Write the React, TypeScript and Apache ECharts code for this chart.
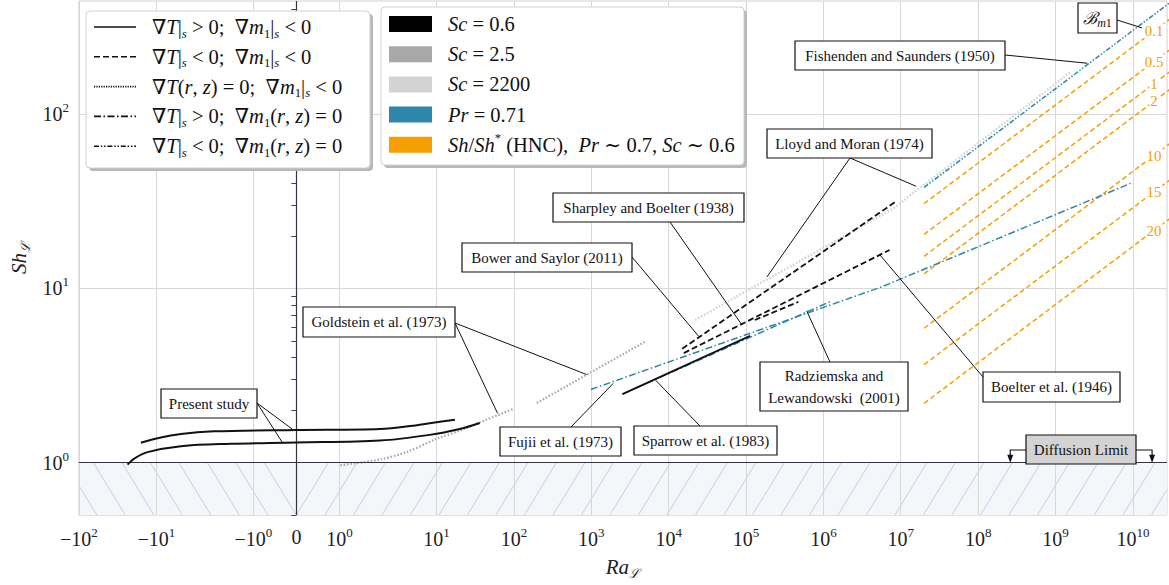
import React, { useEffect, useRef } from 'react';
import * as echarts from 'echarts';

const SERIF = "'Liberation Serif', 'DejaVu Serif', 'Times New Roman', serif";

// ---------- axes ----------
const X_MIN = -100;
const X_MAX = 2.76e10;
const Y_MIN = 0.5;
const Y_MAX = 445;

const X_TICKS = [-100, -10, -1, 0, 1, 10, 1e2, 1e3, 1e4, 1e5, 1e6, 1e7, 1e8, 1e9, 1e10];
const X_TICK_BASE = ['−10', '−10', '−10', '0', '10', '10', '10', '10', '10', '10', '10', '10', '10', '10', '10'];
const X_TICK_EXP = ['2', '1', '0', '', '0', '1', '2', '3', '4', '5', '6', '7', '8', '9', '10'];
const Y_TICKS = [1, 10, 100];
const Y_TICK_EXP = ['0', '1', '2'];
const Y_MINOR = [0.5, 0.6, 0.7, 0.8, 0.9, 2, 3, 4, 5, 6, 7, 8, 9, 20, 30, 40, 50, 60, 70, 80, 90, 200, 300, 400];

// ---------- data (Ra, Sh) ----------
const PRESENT_UPPER = [[-15.8, 1.299], [-9.7, 1.38], [-5.58, 1.461], [-2.54, 1.512], [0, 1.54], [2.62, 1.56], [5.75, 1.629], [9.23, 1.695], [17.3, 1.762]];
const PRESENT_LOWER = [[-23.5, 0.974], [-19.3, 1.054], [-13.0, 1.149], [-5.58, 1.243], [-1.71, 1.282], [0, 1.304], [2.62, 1.339], [8.54, 1.443], [20.0, 1.56], [36.2, 1.688]];
const GOLDSTEIN_LOW = [[1.02, 0.965], [2.62, 1.044], [4.91, 1.149], [10, 1.369], [20, 1.526], [36.2, 1.7], [97.2, 2.03]];
const GOLDSTEIN_HIGH = [[198, 2.2], [5000, 4.95]];
const LLOYD_MORAN = [[2.2e4, 6.58], [8e6, 28.7], [1.6e9, 175.5]];
const FUJII = [[990, 2.63], [5.6e6, 10.17], [1e10, 40.5]];
const RADZIEMSKA = [[2530, 2.47], [1.28e6, 8.47]];
const SPARROW = [[2530, 2.47], [1.13e5, 5.34]];
const BOWER = [[1.5e4, 4.5], [8.77e6, 31.6]];
const BOELTER = [[1.57e4, 4.25], [7.18e6, 16.6]];
const SHARPLEY = [[1.3e5, 6.58], [4.75e5, 8.36]];
const FISHENDEN = [[2e7, 37.9], [3e10, 435]];
const ORANGE_RA = [2e7, 3e10];
const ORANGE_START = [30.6, 20.4, 15.26, 12.1, 5.9, 3.65, 2.19];
const ORANGE_END = [350, 233.6, 174.7, 138.5, 67.6, 41.8, 25.1];
const ORANGE_LABELS = ['0.1', '0.5', '1', '2', '10', '15', '20'];
const DIFFUSION_ARROWS_RA = [2.6e8, 1.77e10];

// ---------- styles ----------
const C_BLACK = '#111111';
const C_GRAY = '#a9a9a9';
const C_LIGHT = '#d3d3d3';
const C_BLUE = '#2e86ab';
const C_ORANGE = '#f5a000';
const DOTTED = [1.6, 1.8];
const DASHED = [6, 3];
const DASHDOT = [7, 2.5, 1.5, 2.5];
const DASHDOTDOT = [5, 1.8, 1.5, 1.8, 1.5, 1.8];

// symmetric log-like transform of the Ra axis
const LIN = 0.5573;
const MID = 1.2535;
function T(x: number): number {
  const a = Math.abs(x);
  const s = Math.sign(x);
  if (a <= 1) return x * LIN;
  if (a <= 10) return s * (LIN + MID * Math.log10(a));
  return s * (LIN + MID + Math.log10(a) - 1);
}
const L = (y: number) => Math.log10(y);

function lineSeries(data: number[][], color: string, width: number, dash: any, z: number, smooth: any = false) {
  return {
    type: 'line',
    data: data.map(([x, y]) => [T(x), L(y)]),
    showSymbol: false,
    symbol: 'none',
    smooth,
    silent: true,
    clip: true,
    z,
    lineStyle: { color, width, type: dash, cap: 'butt' },
  };
}

function clipSeg(x1: number, y1: number, x2: number, y2: number, a: number, b: number) {
  if (x2 < a || x1 > b) return null;
  const k = (y2 - y1) / (x2 - x1);
  let nx1 = x1, ny1 = y1, nx2 = x2, ny2 = y2;
  if (nx1 < a) { ny1 = y1 + k * (a - x1); nx1 = a; }
  if (nx2 > b) { ny2 = y1 + k * (b - x1); nx2 = b; }
  return [nx1, ny1, nx2, ny2];
}

const richAxis = {
  b: { fontSize: 20, lineHeight: 26, fontFamily: SERIF, color: '#222' },
  s: { fontSize: 13, lineHeight: 13, fontFamily: SERIF, color: '#222', verticalAlign: 'top' },
  z: { fontSize: 20, lineHeight: 26, fontFamily: SERIF, color: '#222', padding: [0, 0, 5, 0] },
};

function legendRich(fs: number) {
  return {
    n: { fontSize: fs, lineHeight: 26, fontFamily: SERIF },
    i: { fontSize: fs, lineHeight: 26, fontFamily: SERIF, fontStyle: 'italic' },
    sub: { fontSize: fs * 0.62, lineHeight: 13, fontFamily: SERIF, fontStyle: 'italic', verticalAlign: 'bottom' },
    subn: { fontSize: fs * 0.62, lineHeight: 13, fontFamily: SERIF, verticalAlign: 'bottom' },
    sup: { fontSize: fs * 0.62, lineHeight: 13, fontFamily: SERIF, verticalAlign: 'top' },
  };
}

const LEGEND1_TEXT = [
  '{n|∇}{i|T}{n||}{sub|s}{n| > 0;  ∇}{i|m}{subn|1}{n||}{sub|s}{n| < 0}',
  '{n|∇}{i|T}{n||}{sub|s}{n| < 0;  ∇}{i|m}{subn|1}{n||}{sub|s}{n| < 0}',
  '{n|∇}{i|T}{n|(}{i|r}{n|, }{i|z}{n|) = 0;  ∇}{i|m}{subn|1}{n||}{sub|s}{n| < 0}',
  '{n|∇}{i|T}{n||}{sub|s}{n| > 0;  ∇}{i|m}{subn|1}{n|(}{i|r}{n|, }{i|z}{n|) = 0}',
  '{n|∇}{i|T}{n||}{sub|s}{n| < 0;  ∇}{i|m}{subn|1}{n|(}{i|r}{n|, }{i|z}{n|) = 0}',
];
const LEGEND1_DASH = [null, DASHED, [1.2, 1.2], DASHDOT, DASHDOTDOT];
const LEGEND2_TEXT = [
  '{i|Sc}{n| = 0.6}',
  '{i|Sc}{n| = 2.5}',
  '{i|Sc}{n| = 2200}',
  '{i|Pr}{n| = 0.71}',
  '{i|Sh}{n|/}{i|Sh}{sup|*}{n| (HNC),  }{i|Pr}{n| ∼ 0.7, }{i|Sc}{n| ∼ 0.6}',
];
const LEGEND2_COLOR = ['#000000', '#a8a8a8', '#d3d3d3', '#2e86ab', '#f5a000'];

// annotation boxes (layout in px) and targets (data coordinates)
const ANNOTATIONS = [
  { text: 'Present study', box: [161, 389, 257, 418], from: [257, 403], to: [[-0.1, 1.56], [-0.33, 1.31]] },
  { text: 'Goldstein et al. (1973)', box: [303, 307, 455, 337], from: [455, 323], to: [[871, 3.2], [61.5, 1.92]] },
  { text: 'Fujii et al. (1973)', box: [500, 427, 621, 456], from: [571, 427], to: [[1923, 2.85]] },
  { text: 'Sparrow et al. (1983)', box: [634, 426, 777, 455], from: [700, 426], to: [[6790, 2.97]] },
  { text: 'Bower and Saylor (2011)', box: [462, 243, 632, 272], from: [632, 257], to: [[2.46e4, 5.29]] },
  { text: 'Sharpley and Boelter (1938)', box: [553, 193, 744, 222], from: [670, 222], to: [[8.87e4, 6.16]] },
  { text: 'Lloyd and Moran (1974)', box: [767, 129, 932, 158], from: [850, 158], to: [[1.86e5, 11.6], [1.58e7, 38.5]] },
  { text: 'Fishenden and Saunders (1950)', box: [795, 41, 1005, 70], from: [1005, 55], to: [[2.57e9, 195.6]] },
  { text: 'Radziemska and\nLewandowski  (2001)', box: [760, 362, 908, 411], from: [830, 362], to: [[6.08e5, 7.43]] },
  { text: 'Boelter et al. (1946)', box: [983, 372, 1120, 402], from: [983, 377], to: [[5.35e6, 15.6]] },
];

export default function App() {
  const ref = useRef<HTMLDivElement>(null);
  useEffect(() => {
    if (!ref.current) return;
    const chart = echarts.init(ref.current, null, { renderer: 'svg' });

    const hatchSeries = {
      type: 'custom',
      coordinateSystem: 'cartesian2d',
      silent: true,
      z: 1,
      data: [[T(X_MIN), L(Y_MIN), T(X_MAX), L(1)]],
      renderItem: (params: any, api: any) => {
        const p0 = api.coord([api.value(0), api.value(1)]);
        const p1 = api.coord([api.value(2), api.value(3)]);
        const pz = api.coord([0, api.value(1)]);
        const left = p0[0], right = p1[0], bottom = p0[1], top = p1[1], zx = pz[0];
        const children: any[] = [
          { type: 'rect', shape: { x: left, y: top, width: right - left, height: bottom - top }, style: { fill: '#f4f6fa' } },
        ];
        const dx = 32, step = 28.5;
        const hs = { stroke: '#bccbe6', lineWidth: 0.9 };
        for (let k = 0; k < 20; k++) {
          const xb = zx - k * step; // "\" lines: bottom point xb, top point xb - dx
          const s = clipSeg(xb - dx, top, xb, bottom, left, zx);
          if (s) children.push({ type: 'line', shape: { x1: s[0], y1: s[1], x2: s[2], y2: s[3] }, style: hs });
        }
        for (let k = 0; k < 40; k++) {
          const xb = zx + k * step; // "/" lines: bottom point xb, top point xb + dx
          const s = clipSeg(xb, bottom, xb + dx, top, zx, right);
          if (s) children.push({ type: 'line', shape: { x1: s[0], y1: s[1], x2: s[2], y2: s[3] }, style: hs });
        }
        return { type: 'group', children };
      },
    };

    const gridSeries = {
      type: 'scatter',
      data: [],
      silent: true,
      z: 2,
      markLine: {
        silent: true,
        symbol: ['none', 'none'],
        label: { show: false },
        animation: false,
        lineStyle: { color: '#d8d8d8', width: 1, type: 'solid' },
        data: [
          ...X_TICKS.filter((v) => v !== 0).map((v) => ({ xAxis: T(v) })),
          ...Y_TICKS.filter((v) => v !== 1).map((v) => ({ yAxis: L(v) })),
        ],
      },
    };
    const axisLinesSeries = {
      type: 'scatter',
      data: [],
      silent: true,
      z: 3,
      markLine: {
        silent: true,
        symbol: ['none', 'none'],
        label: { show: false },
        animation: false,
        lineStyle: { color: '#343442', width: 1.2, type: 'solid' },
        data: [{ xAxis: T(0) }, { yAxis: L(1) }],
      },
    };

    const orangeSeries = ORANGE_START.map((s, i) =>
      lineSeries([[ORANGE_RA[0], s], [ORANGE_RA[1], ORANGE_END[i]]], C_ORANGE, 1.5, [5, 3], 6)
    );

    const option: any = {
      animation: false,
      backgroundColor: '#ffffff',
      textStyle: { fontFamily: SERIF },
      grid: { left: 75, right: 2, top: 1, bottom: 65, show: true, borderColor: '#d0d0d0', borderWidth: 1, backgroundColor: 'transparent' },
      xAxis: {
        type: 'value',
        min: T(X_MIN),
        max: T(X_MAX),
        splitLine: { show: false },
        axisLine: { show: false },
        axisTick: { show: false },
        axisLabel: {
          customValues: X_TICKS.map(T),
          margin: 11,
          formatter: (v: number) => {
            const i = X_TICKS.findIndex((t) => Math.abs(T(t) - v) < 1e-6);
            if (i < 0) return '';
            return X_TICK_EXP[i] ? `{b|${X_TICK_BASE[i]}}{s|${X_TICK_EXP[i]}}` : `{z|${X_TICK_BASE[i]}}`;
          },
          rich: richAxis,
        },
        name: '{i|Ra}{sub|ℒ}',
        nameLocation: 'middle',
        nameGap: 36,
        nameTextStyle: {
          rich: {
            i: { fontSize: 21, fontStyle: 'italic', fontFamily: SERIF, color: '#222', lineHeight: 26 },
            sub: { fontSize: 13, fontStyle: 'italic', fontFamily: SERIF, color: '#222', lineHeight: 13, verticalAlign: 'bottom' },
          },
        },
      },
      yAxis: {
        type: 'value',
        min: L(Y_MIN),
        max: L(Y_MAX),
        splitLine: { show: false },
        axisLine: { show: false },
        axisTick: {
          show: true,
          customValues: [...Y_TICKS, ...Y_MINOR].map(L),
          length: 5,
          lineStyle: { color: '#444', width: 1 },
        },
        axisLabel: {
          customValues: Y_TICKS.map(L),
          margin: 10,
          formatter: (v: number) => {
            const i = Y_TICKS.findIndex((t) => Math.abs(L(t) - v) < 1e-6);
            if (i < 0) return '';
            return `{b|10}{s|${Y_TICK_EXP[i]}}`;
          },
          rich: richAxis,
        },
        name: '{i|Sh}{sub|ℒ}',
        nameLocation: 'middle',
        nameRotate: 90,
        nameGap: 40,
        nameTextStyle: {
          rich: {
            i: { fontSize: 21, fontStyle: 'italic', fontFamily: SERIF, color: '#222', lineHeight: 26 },
            sub: { fontSize: 13, fontStyle: 'italic', fontFamily: SERIF, color: '#222', lineHeight: 13, verticalAlign: 'bottom' },
          },
        },
      },
      series: [
        hatchSeries,
        gridSeries,
        axisLinesSeries,
        lineSeries(GOLDSTEIN_LOW, C_GRAY, 2.2, DOTTED, 4, 0.3),
        lineSeries(GOLDSTEIN_HIGH, C_GRAY, 2.2, DOTTED, 4),
        lineSeries(LLOYD_MORAN, C_LIGHT, 2.4, DOTTED, 4),
        ...orangeSeries,
        lineSeries(FUJII, C_BLUE, 1.5, DASHDOT, 7),
        lineSeries(RADZIEMSKA, C_BLUE, 1.5, DASHDOT, 7),
        lineSeries(FISHENDEN, C_BLUE, 1.5, DASHDOTDOT, 7),
        lineSeries(SPARROW, C_BLACK, 1.8, 'solid', 8),
        lineSeries(BOWER, C_BLACK, 1.8, DASHED, 8),
        lineSeries(BOELTER, C_BLACK, 1.8, DASHED, 8),
        lineSeries(SHARPLEY, C_BLACK, 1.8, DASHED, 8),
        lineSeries(PRESENT_UPPER, C_BLACK, 2, 'solid', 9, 0.35),
        lineSeries(PRESENT_LOWER, C_BLACK, 2, 'solid', 9, 0.35),
      ],
    };
    chart.setOption(option);

    const toPx = (x: number, y: number) => chart.convertToPixel({ gridIndex: 0 } as any, [T(x), L(y)]) as number[];
    const els: any[] = [];
    const Z = 100;

    // annotation boxes with leader lines
    ANNOTATIONS.forEach((a) => {
      a.to.forEach(([x, y]) => {
        const p = toPx(x, y);
        els.push({ type: 'line', z: Z, silent: true, shape: { x1: a.from[0], y1: a.from[1], x2: p[0], y2: p[1] }, style: { stroke: '#111', lineWidth: 1 } });
      });
    });
    ANNOTATIONS.forEach((a) => {
      const [l, t, r, b] = a.box;
      els.push({ type: 'rect', z: Z + 1, silent: true, shape: { x: l, y: t, width: r - l, height: b - t }, style: { fill: '#fff', stroke: '#111', lineWidth: 1.2 } });
      els.push({
        type: 'text', z: Z + 2, silent: true, x: (l + r) / 2, y: (t + b) / 2,
        style: { text: a.text, fontSize: 15, fontFamily: SERIF, fill: '#111', align: 'center', verticalAlign: 'middle', lineHeight: 22 },
      });
    });

    // B_m1 box
    {
      const tgt = toPx(1.31e10, 312);
      els.push({ type: 'line', z: Z, silent: true, shape: { x1: 1117, y1: 20, x2: tgt[0], y2: tgt[1] }, style: { stroke: '#111', lineWidth: 1 } });
      els.push({ type: 'rect', z: Z + 1, silent: true, shape: { x: 1078, y: 3, width: 39, height: 30 }, style: { fill: '#fff', stroke: '#111', lineWidth: 1.2 } });
      els.push({
        type: 'text', z: Z + 2, silent: true, x: 1097.5, y: 18,
        style: {
          text: '{b|ℬ}{m|m}{o|1}', align: 'center', verticalAlign: 'middle', fill: '#111',
          rich: {
            b: { fontSize: 17, fontFamily: SERIF, fontStyle: 'italic', lineHeight: 22 },
            m: { fontSize: 12, fontFamily: SERIF, fontStyle: 'italic', lineHeight: 12, verticalAlign: 'bottom' },
            o: { fontSize: 12, fontFamily: SERIF, lineHeight: 12, verticalAlign: 'bottom' },
          },
        },
      });
    }

    // orange inline labels
    ORANGE_START.forEach((s, i) => {
      const p0 = toPx(ORANGE_RA[0], s);
      const p1 = toPx(ORANGE_RA[1], ORANGE_END[i]);
      const lx = 1154;
      const ly = p0[1] + (p1[1] - p0[1]) * (lx - p0[0]) / (p1[0] - p0[0]);
      els.push({
        type: 'text', z: Z + 2, silent: true, x: lx, y: ly,
        style: { text: ORANGE_LABELS[i], fontSize: 15, fontFamily: SERIF, fill: C_ORANGE, align: 'center', verticalAlign: 'middle', backgroundColor: '#fff', padding: [0, 1] },
      });
    });

    // diffusion limit box with bracket arrows
    {
      const pa = toPx(DIFFUSION_ARROWS_RA[0], 1);
      const pb = toPx(DIFFUSION_ARROWS_RA[1], 1);
      const by = 450;
      els.push({ type: 'polyline', z: Z, silent: true, shape: { points: [[1026, by], [pa[0], by], [pa[0], pa[1] - 6]] }, style: { stroke: '#111', lineWidth: 1.2, fill: null } });
      els.push({ type: 'polyline', z: Z, silent: true, shape: { points: [[1136, by], [pb[0], by], [pb[0], pb[1] - 6]] }, style: { stroke: '#111', lineWidth: 1.2, fill: null } });
      [pa, pb].forEach((p) => {
        els.push({ type: 'polygon', z: Z, silent: true, shape: { points: [[p[0] - 3, p[1] - 8], [p[0] + 3, p[1] - 8], [p[0], p[1]]] }, style: { fill: '#111' } });
      });
      els.push({ type: 'rect', z: Z + 1, silent: true, shape: { x: 1026, y: 435, width: 110, height: 29 }, style: { fill: '#d3d3d3', stroke: '#111', lineWidth: 1.2 } });
      els.push({ type: 'text', z: Z + 2, silent: true, x: 1081, y: 449.5, style: { text: 'Diffusion Limit', fontSize: 15, fontFamily: SERIF, fill: '#111', align: 'center', verticalAlign: 'middle' } });
    }

    // legend 1 (line styles)
    {
      const x = 86, y = 11, w = 284, h = 157;
      els.push({ type: 'rect', z: Z + 3, silent: true, shape: { x: x + 3, y: y + 3, width: w, height: h, r: 4 }, style: { fill: '#b8b8b8' } });
      els.push({ type: 'rect', z: Z + 4, silent: true, shape: { x, y, width: w, height: h, r: 4 }, style: { fill: '#fff', stroke: '#d0d0d0', lineWidth: 1 } });
      LEGEND1_TEXT.forEach((t, i) => {
        const cy = 27 + i * 29.8;
        els.push({ type: 'line', z: Z + 5, silent: true, shape: { x1: 94, y1: cy, x2: 136, y2: cy }, style: { stroke: '#111', lineWidth: 1.6, lineDash: LEGEND1_DASH[i] } });
        els.push({ type: 'text', z: Z + 5, silent: true, x: 152, y: cy, style: { text: t, fill: '#111', align: 'left', verticalAlign: 'middle', rich: legendRich(20.5) } });
      });
    }
    // legend 2 (colours)
    {
      const x = 381, y = 7, w = 363, h = 158;
      els.push({ type: 'rect', z: Z + 3, silent: true, shape: { x: x + 3, y: y + 3, width: w, height: h, r: 4 }, style: { fill: '#b8b8b8' } });
      els.push({ type: 'rect', z: Z + 4, silent: true, shape: { x, y, width: w, height: h, r: 4 }, style: { fill: '#fff', stroke: '#d0d0d0', lineWidth: 1 } });
      LEGEND2_TEXT.forEach((t, i) => {
        const cy = 24 + i * 30.2;
        els.push({ type: 'rect', z: Z + 5, silent: true, shape: { x: 389, y: cy - 8, width: 43, height: 16 }, style: { fill: LEGEND2_COLOR[i] } });
        els.push({ type: 'text', z: Z + 5, silent: true, x: 448, y: cy, style: { text: t, fill: '#111', align: 'left', verticalAlign: 'middle', rich: legendRich(20.5) } });
      });
    }

    chart.setOption({ graphic: els });
    return () => chart.dispose();
  }, []);

  return (
    <div
      ref={ref}
      style={{ position: 'fixed', left: 0, top: 0, width: 1169, height: 585, background: '#fff' }}
    />
  );
}
